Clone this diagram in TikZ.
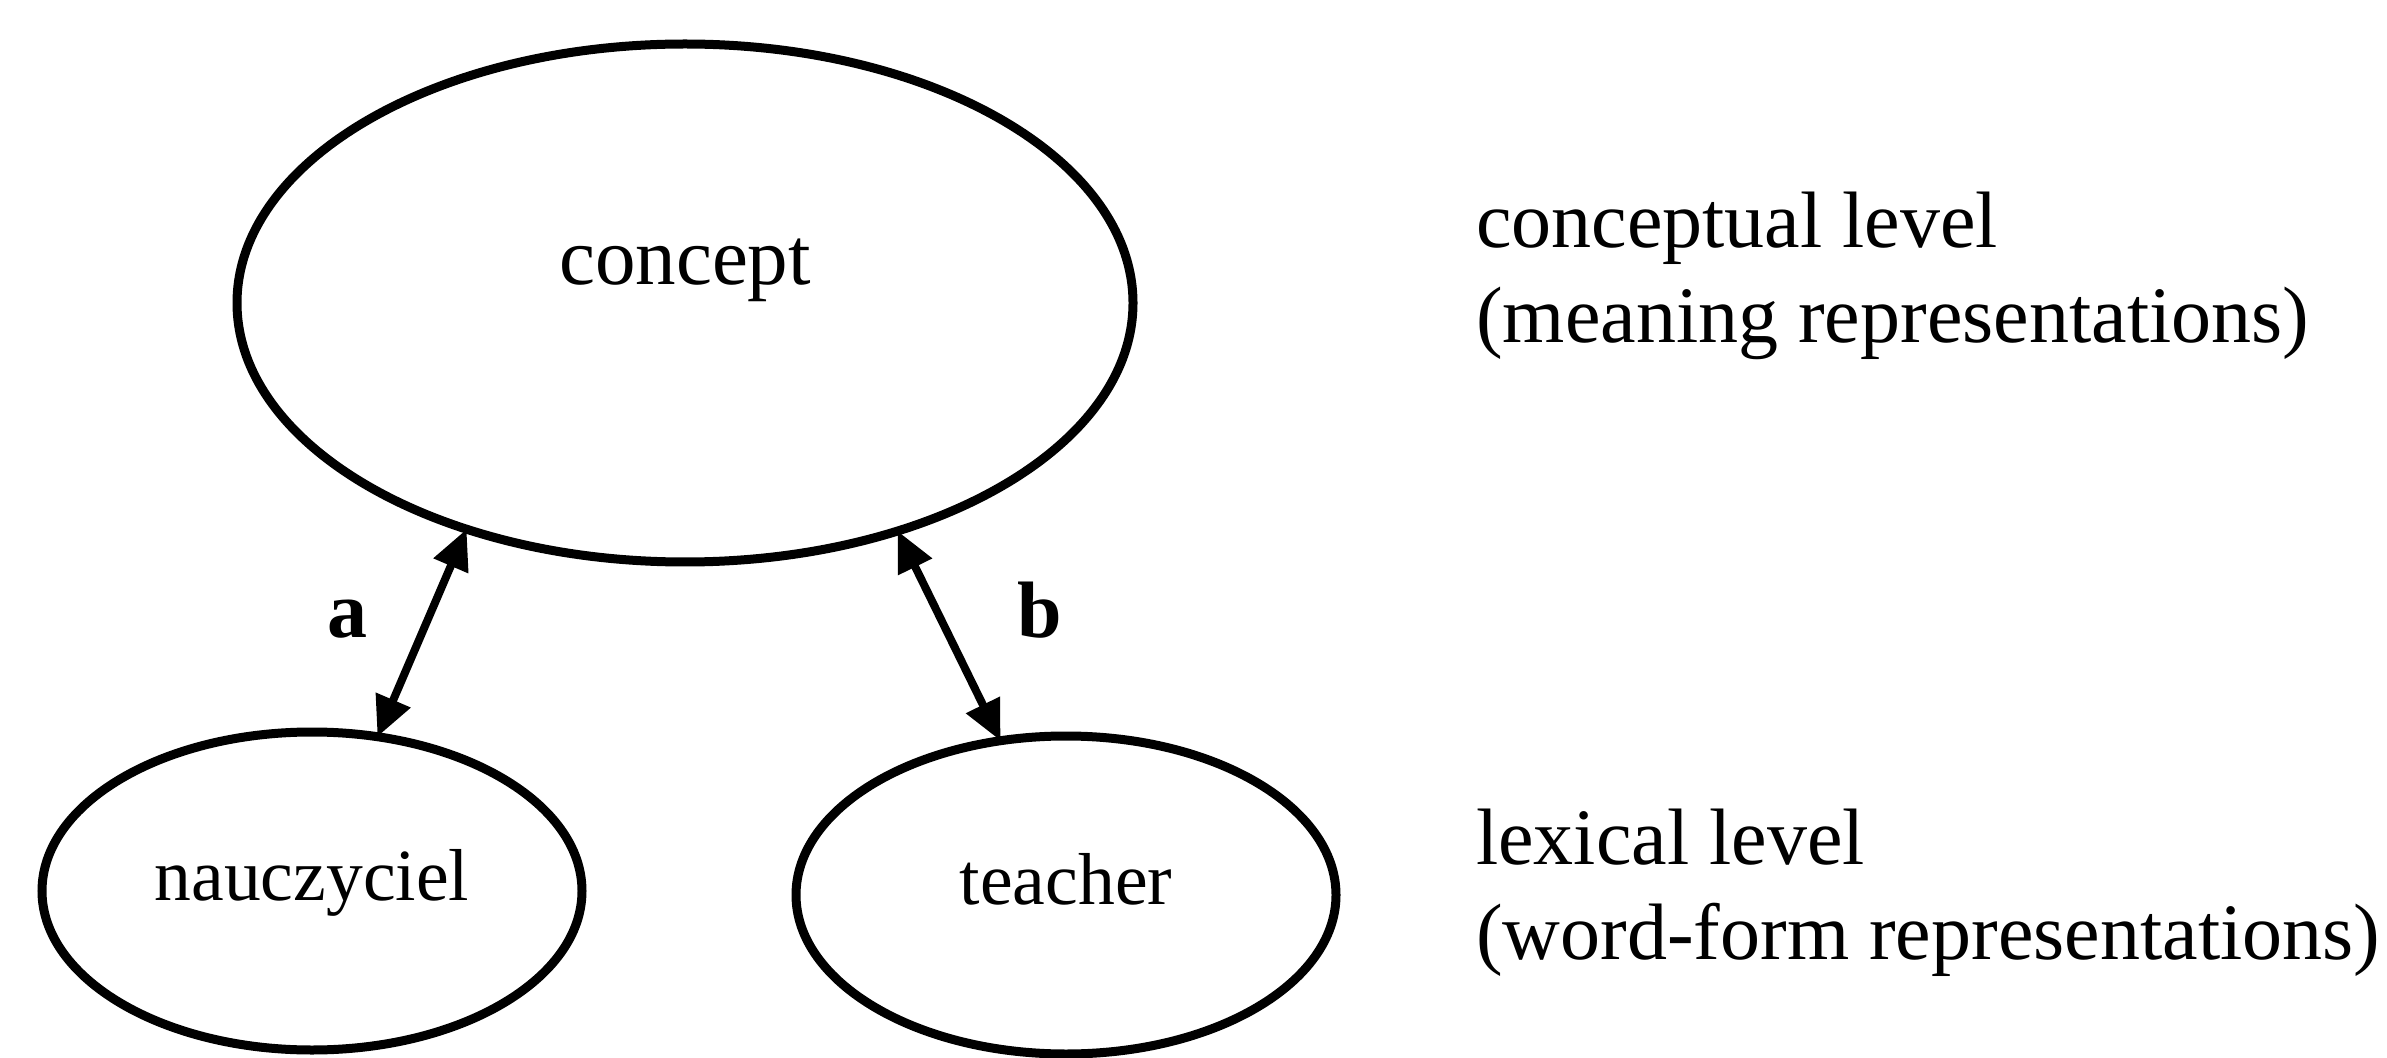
\documentclass[tikz,border=0pt]{standalone}
\usepackage{fontspec}
\setmainfont{Liberation Serif}
\usetikzlibrary{shapes.geometric,arrows.meta}
\begin{document}
\begin{tikzpicture}[x=0.25pt,y=-0.25pt,
  bubble/.style={draw,ellipse,line width=2.25pt,inner sep=0pt,outer sep=0pt},
  bigbubble/.style={bubble,minimum width=224pt,minimum height=129.5pt},
  smallbubble/.style={bubble,minimum width=135pt,minimum height=79.5pt,
     font=\fontsize{18.4pt}{22pt}\selectfont,text height=0.68em,text depth=0.22em},
  lvl/.style={anchor=base west,align=left,font=\fontsize{20pt}{23.75pt}\selectfont},
  linklbl/.style={anchor=base,font=\fontsize{20pt}{24pt}\selectfont\bfseries},
  link/.style={line width=2pt,{Triangle[length=10pt,width=9pt]}-{Triangle[length=10pt,width=9pt]}}
]
\useasboundingbox[fill=white] (0,0) rectangle (2387,1058);
\node[bigbubble] (concept) at (685,303) {};
\node[anchor=base,font=\fontsize{20.25pt}{24pt}\selectfont] (conceptText) at (685,285) {concept};
\node[smallbubble] (pl) at (312,891) {nauczyciel};
\node[smallbubble] (en) at (1066,895) {teacher};
\draw[link] (concept.226) -- (pl.67);
\draw[link] (concept.313) -- (en.113);
\node[linklbl] (la) at (347,637) {a};
\node[linklbl] (lb) at (1040,637) {b};
% base anchor of a multi-line node is the baseline of its last line
\node[lvl] (conc) at (1462,343) {conceptual level\\(meaning representations)};
\node[lvl] (lex) at (1462,959) {lexical level\\(word-form representations)};
\end{tikzpicture}
\end{document}
